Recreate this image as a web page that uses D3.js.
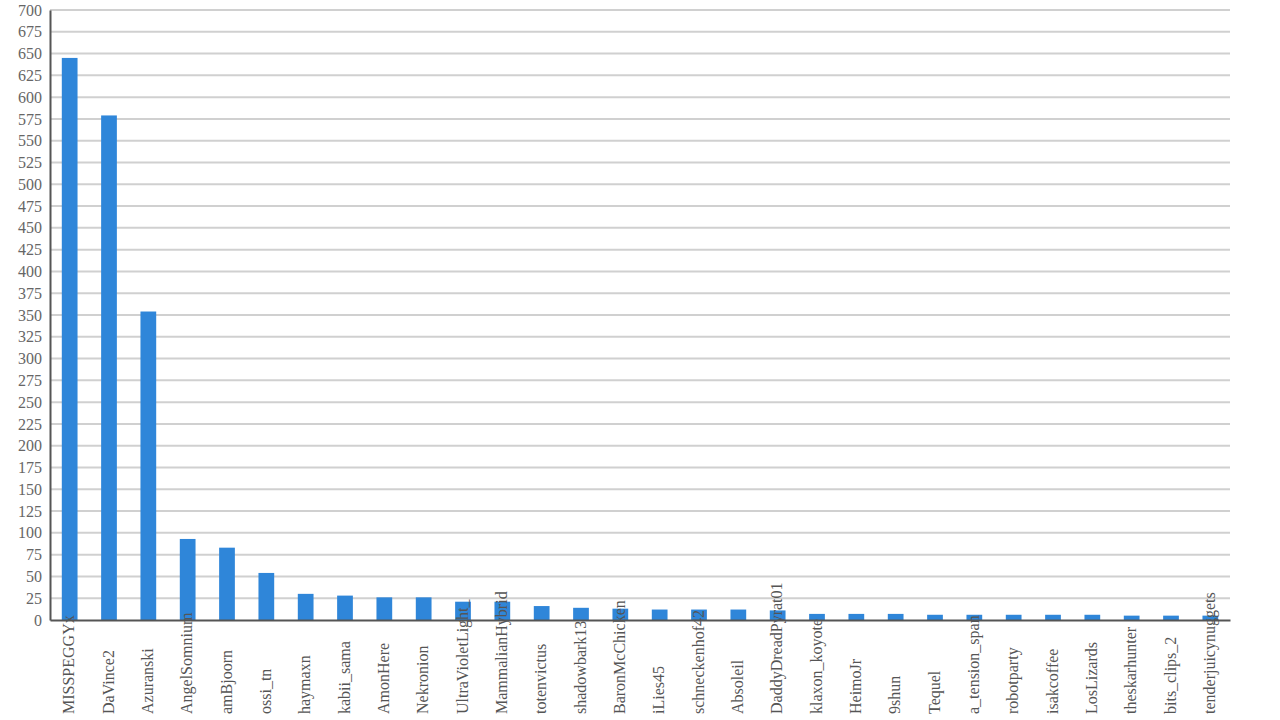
<!DOCTYPE html>
<html>
<head>
<meta charset="utf-8">
<script src="https://cdn.jsdelivr.net/npm/d3@7"></script>
<style>
    body { margin: 0; background: #fff; }
    #chart { width: 1280px; height: 720px; }
</style>
</head>
<body>
<div id="chart"></div>
<script>
// chart data
let names = ["MISSPEGGYx", "DaVince2", "Azuranski", "AngelSomnium", "amBjoorn", "ossi_tn", "haymaxn",
    "kabii_sama", "AmonHere", "Nekronion", "UltraVioletLight_", "MammalianHybrid", "totenvictus",
    "shadowbark13", "BaronMcChicken", "iLies45", "schneckenhof42", "Absoleil", "DaddyDreadPyrat01",
    "klaxon_koyote", "HeimoJr", "9shun", "Tequel", "a_tension_span", "robotparty", "isakcoffee",
    "LosLizards", "theskarhunter", "bits_clips_2", "tenderjuicynuggets"];
let counts = [645, 579, 354, 93, 83, 54, 30, 28, 26, 26, 21, 21, 16, 14, 13, 12, 12, 12, 11,
    7, 7, 7, 6, 6, 6, 6, 6, 5, 5, 5];
let yTicks = d3.range(0, 701, 25);

let data = names.map((n, i) => ({ name: n, count: counts[i] }));

let font = "'Liberation Serif', 'Times New Roman', serif";
let margin = { top: 10, right: 50, bottom: 100, left: 50 };
let width = 1280 - margin.left - margin.right;
let height = 720 - margin.top - margin.bottom;

let svg = d3.select("#chart").append("svg")
    .attr("width", 1280)
    .attr("height", 720)
    .append("g")
    .attr("transform", "translate(" + margin.left + "," + margin.top + ")");

let x = d3.scaleBand()
    .domain(names)
    .range([0, width])
    .paddingInner(0.6)
    .paddingOuter(0.3);

let y = d3.scaleLinear()
    .domain([0, 700])
    .range([height, 0]);

// grid lines
svg.append("g")
    .selectAll("line")
    .data(yTicks.filter(d => d > 0))
    .enter().append("line")
    .attr("x1", 0)
    .attr("x2", width)
    .attr("y1", d => y(d))
    .attr("y2", d => y(d))
    .style("stroke", "#d0d0d0")
    .style("stroke-width", 2);

// bars
svg.selectAll(".bar")
    .data(data)
    .enter().append("rect")
    .attr("class", "bar")
    .attr("x", d => x(d.name))
    .attr("y", d => y(d.count))
    .attr("width", x.bandwidth())
    .attr("height", d => height - y(d.count))
    .style("fill", "#2f86d9");

// y axis
let yAxis = svg.append("g")
    .attr("class", "y axis")
    .call(d3.axisLeft(y).tickValues(yTicks).tickSize(0).tickPadding(8));
yAxis.select(".domain").style("stroke", "#555").style("stroke-width", 2);
yAxis.selectAll(".tick text")
    .style("font-family", font)
    .style("font-size", "16px")
    .style("fill", "#666");

// x axis
let xAxis = svg.append("g")
    .attr("class", "x axis")
    .attr("transform", "translate(0," + height + ")")
    .call(d3.axisBottom(x).tickSize(0));
xAxis.select(".domain").style("stroke", "#555").style("stroke-width", 2);
xAxis.selectAll(".tick text")
    .style("font-family", font)
    .style("font-size", "16px")
    .style("fill", "#555")
    .attr("transform", "rotate(-90)")
    .attr("text-anchor", "start")
    .attr("x", -(margin.bottom - 6))
    .attr("y", -1)
    .attr("dy", "0.35em");
</script>
</body>
</html>
